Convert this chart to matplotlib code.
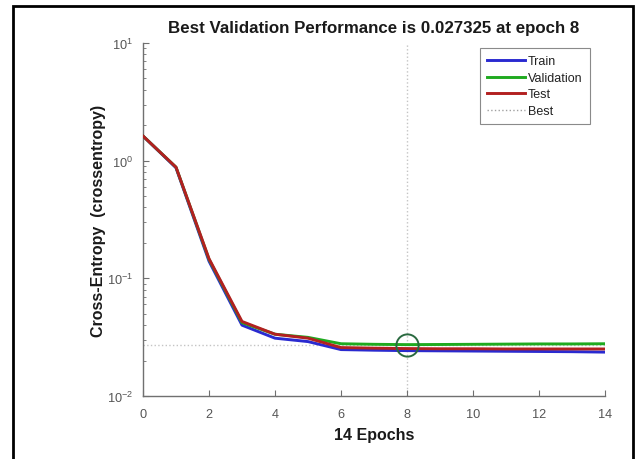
import matplotlib
matplotlib.use("Agg")
import matplotlib.pyplot as plt
from matplotlib.patches import Rectangle
from matplotlib.ticker import LogLocator, NullFormatter

plt.rcParams['font.family'] = ['Liberation Sans', 'DejaVu Sans']
plt.rcParams['mathtext.fontset'] = 'custom'
plt.rcParams['mathtext.rm'] = 'Liberation Sans'
plt.rcParams['mathtext.it'] = 'Liberation Sans:italic'
plt.rcParams['mathtext.bf'] = 'Liberation Sans:bold'
plt.rcParams['axes.unicode_minus'] = False

epochs = list(range(15))
train = [1.62, 0.87, 0.140, 0.040, 0.031, 0.029, 0.0248, 0.0245, 0.0243,
         0.0242, 0.0241, 0.0240, 0.0239, 0.0238, 0.0236]
validation = [1.62, 0.88, 0.145, 0.042, 0.0335, 0.0315, 0.0278, 0.0275, 0.027325,
              0.0274, 0.0275, 0.0276, 0.0277, 0.0277, 0.0278]
test = [1.62, 0.88, 0.147, 0.043, 0.0335, 0.031, 0.0258, 0.0255, 0.0253,
        0.0252, 0.0252, 0.0251, 0.0251, 0.0251, 0.0251]
best_epoch = 8
best_perf = 0.027325
xticks = [0, 2, 4, 6, 8, 10, 12, 14]

fig = plt.figure(figsize=(6.38, 4.60), dpi=100)
ax = fig.add_axes([143/638, 1-397/460, 462/638, 353/460])

gray = '#c4c4c4'
ax.axvline(best_epoch, color=gray, linestyle=':', linewidth=1.0, zorder=1)
ax.axhline(best_perf, color=gray, linestyle=':', linewidth=1.0, zorder=1)

l1, = ax.plot(epochs, train, color='#2a2ad0', linewidth=2.1, label='Train', zorder=3)
l2, = ax.plot(epochs, validation, color='#1faa1f', linewidth=2.1, label='Validation', zorder=3)
l3, = ax.plot(epochs, test, color='#b22020', linewidth=2.1, label='Test', zorder=4)
l4, = ax.plot([], [], color='#a0a0a0', linestyle=':', linewidth=1.0, label='Best')
ax.plot([best_epoch], [best_perf], marker='o', markersize=16, markerfacecolor='none',
        markeredgecolor='#2a6a40', markeredgewidth=1.4, zorder=5)

ax.set_yscale('log')
ax.set_ylim(1e-2, 1e1)
ax.set_xlim(0, 14)
ax.set_xticks(xticks)
ax.yaxis.set_major_locator(LogLocator(base=10, numticks=10))
ax.yaxis.set_minor_locator(LogLocator(base=10, subs=range(2, 10), numticks=10))
ax.yaxis.set_minor_formatter(NullFormatter())

for s in ['top', 'right']:
    ax.spines[s].set_visible(False)
for s in ['left', 'bottom']:
    ax.spines[s].set_color('#707070')
    ax.spines[s].set_linewidth(1.0)
ax.tick_params(which='both', direction='in', colors='#707070', labelcolor='#555555',
               labelsize=9.2)
ax.tick_params(which='major', length=4)
ax.tick_params(which='minor', length=2)
ax.tick_params(axis='x', pad=9)
ax.tick_params(axis='y', pad=7)

ax.set_title('Best Validation Performance is 0.027325 at epoch 8', fontsize=12.2,
             fontweight='bold', color='#1a1a1a', pad=8)
ax.set_xlabel('14 Epochs', fontsize=11.5, fontweight='bold', color='#1a1a1a', labelpad=5)
ax.set_ylabel('Cross-Entropy  (crossentropy)', fontsize=11.5, fontweight='bold',
              color='#1a1a1a', labelpad=1)

leg = ax.legend(handles=[l1, l2, l3, l4], loc='upper right',
                bbox_to_anchor=(0.9675, 0.986), borderaxespad=0, fontsize=9,
                fancybox=False, handlelength=3.0, handletextpad=0.25,
                labelspacing=0.36, borderpad=0.6, framealpha=1)
leg.get_frame().set_edgecolor('#8a8a8a')
leg.get_frame().set_linewidth(0.8)
for t in leg.get_texts():
    t.set_color('#222222')

fig.patches.append(Rectangle((13/638, -0.05), 620/638, 1.05 - 7/460,
                             transform=fig.transFigure, fill=False,
                             edgecolor='black', linewidth=2.0))

fig.savefig('out.png', dpi=100)
